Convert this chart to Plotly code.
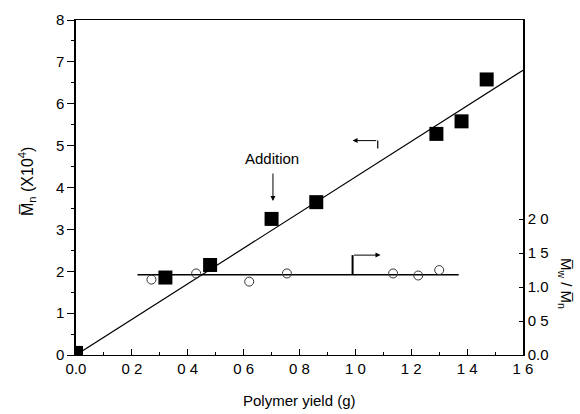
import plotly.graph_objects as go

# Number-average molecular weight vs. polymer yield
yield_g = [0.0, 0.32, 0.48, 0.70, 0.86, 1.29, 1.38, 1.47]
mn_1e4 = [0.05, 1.85, 2.15, 3.25, 3.65, 5.28, 5.58, 6.58]

# Linear fit through the Mn data
fit_x = [0.0, 1.6]
fit_y = [0.0, 6.8]

# Polydispersity (Mw/Mn) vs. polymer yield
pdi_x = [0.27, 0.43, 0.62, 0.755, 1.135, 1.225, 1.30]
pdi_y = [1.11, 1.20, 1.08, 1.20, 1.20, 1.17, 1.25]
pdi_line_x = [0.22, 1.37]
pdi_line_y = [1.18, 1.18]

x_ticks = [0.0, 0.2, 0.4, 0.6, 0.8, 1.0, 1.2, 1.4, 1.6]
x_ticktext = ["0.0", "0 2", "0 4", "0 6", "0 8", "1 0", "1 2", "1 4", "1 6"]
y_ticks = [0, 1, 2, 3, 4, 5, 6, 7, 8]
y2_ticks = [0.0, 0.5, 1.0, 1.5, 2.0]
y2_ticktext = ["0.0", "0 5", "1.0", "1 5", "2 0"]

FONT = "Liberation Sans, Arial, sans-serif"

# plot-area geometry in pixels
W, H = 580, 414
L, R, T, B = 76, 57, 20, 59
plot_h = H - T - B


def paper_y(py):
    return (H - B - py) / plot_h


fig = go.Figure()

fig.add_trace(go.Scatter(x=fit_x, y=fit_y, mode="lines",
                         line=dict(color="black", width=1.2),
                         showlegend=False, hoverinfo="skip"))
fig.add_trace(go.Scatter(x=yield_g, y=mn_1e4, mode="markers",
                         marker=dict(symbol="square", size=14, color="black"),
                         showlegend=False, cliponaxis=True))
fig.add_trace(go.Scatter(x=pdi_line_x, y=pdi_line_y, mode="lines", yaxis="y2",
                         line=dict(color="black", width=1.6),
                         showlegend=False, hoverinfo="skip"))
fig.add_trace(go.Scatter(x=pdi_x, y=pdi_y, mode="markers", yaxis="y2",
                         marker=dict(symbol="circle-open", size=9,
                                     color="#333", line=dict(width=1)),
                         showlegend=False))

annotations = [
    # "Addition" label with downward arrow
    dict(x=0.705, y=3.68, xref="x", yref="y", ax=0.705, ay=4.37,
         axref="x", ayref="y", showarrow=True, arrowhead=2, arrowsize=1,
         arrowwidth=1, arrowcolor="black", text=""),
    dict(x=0.70, y=4.7, xref="x", yref="y", text="Addition", showarrow=False,
         font=dict(family=FONT, size=15, color="black")),
    # left-pointing arrow: Mn belongs to the left axis
    dict(x=0.99, y=5.12, xref="x", yref="y", ax=1.08, ay=5.12,
         axref="x", ayref="y", showarrow=True, arrowhead=2, arrowsize=1,
         arrowwidth=1, arrowcolor="black", text=""),
    # right-pointing arrow: Mw/Mn belongs to the right axis
    dict(x=1.09, y=1.47, xref="x", yref="y2", ax=0.99, ay=1.47,
         axref="x", ayref="y2", showarrow=True, arrowhead=2, arrowsize=1,
         arrowwidth=1, arrowcolor="black", text=""),
    # left-axis title
    dict(x=0, y=paper_y(182), xref="paper", yref="paper",
         text="M̅<sub>n</sub> (X10<sup>4</sup>)", showarrow=False,
         textangle=-90, xanchor="center", yanchor="middle", xshift=-49,
         font=dict(family=FONT, size=16, color="black")),
    # right-axis title, reading top to bottom
    dict(x=1.0, y=paper_y(283), xref="paper", yref="paper",
         text="M̅<sub>w</sub> / M̅<sub>n</sub>", showarrow=False,
         textangle=90, xanchor="center", yanchor="middle", xshift=43,
         font=dict(family=FONT, size=15, color="black")),
    # x-axis title
    dict(x=0.5, y=0, xref="paper", yref="paper", text="Polymer yield (g)",
         showarrow=False, xanchor="center", yanchor="middle", yshift=-45,
         font=dict(family=FONT, size=15, color="black")),
]

shapes = [
    dict(type="line", xref="x", yref="y", x0=1.08, x1=1.08, y0=5.12, y1=4.93,
         line=dict(color="black", width=1.2)),
    dict(type="line", xref="x", yref="y2", x0=0.99, x1=0.99, y0=1.18, y1=1.47,
         line=dict(color="black", width=2)),
]

fig.update_layout(
    width=W, height=H,
    margin=dict(l=L, r=R, t=T, b=B),
    paper_bgcolor="white", plot_bgcolor="white",
    font=dict(family=FONT, size=15, color="black"),
    annotations=annotations, shapes=shapes,
    xaxis=dict(range=[0, 1.6], tickvals=x_ticks, ticktext=x_ticktext,
               ticks="inside", ticklen=6, tickwidth=1, tickcolor="black",
               minor=dict(ticks="inside", ticklen=3, dtick=0.1, tick0=0,
                          tickcolor="black"),
               showline=True, linecolor="black", linewidth=1.2, mirror=True,
               showgrid=False, zeroline=False, tickfont=dict(size=15)),
    yaxis=dict(range=[0, 8], tickvals=y_ticks,
               ticks="outside", ticklen=7, tickwidth=1, tickcolor="black",
               minor=dict(ticks="outside", ticklen=3, dtick=0.5, tick0=0,
                          tickcolor="black"),
               showline=True, linecolor="black", linewidth=1.5, mirror=True,
               showgrid=False, zeroline=False, tickfont=dict(size=15)),
    yaxis2=dict(range=[0, 4.93], overlaying="y", side="right",
                tickvals=y2_ticks, ticktext=y2_ticktext,
                ticks="inside", ticklen=4, tickwidth=1, tickcolor="black",
                showline=True, linecolor="black", linewidth=1.5,
                showgrid=False, zeroline=False, tickfont=dict(size=15)),
)

fig.write_html("out.html")
